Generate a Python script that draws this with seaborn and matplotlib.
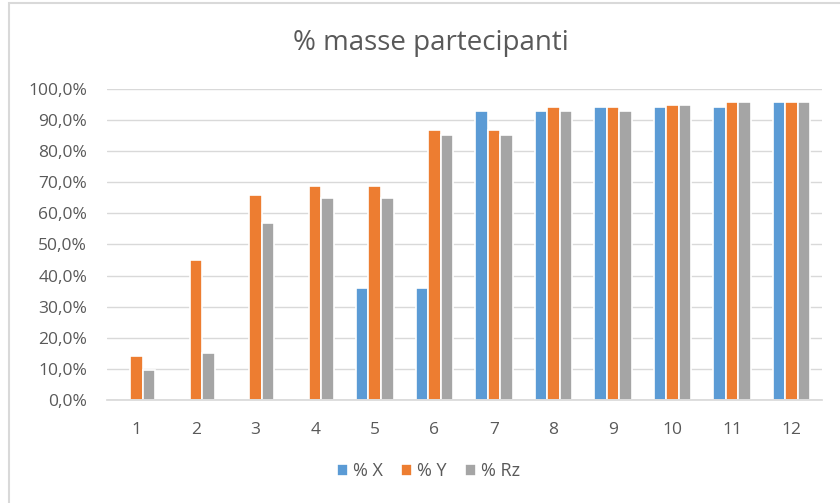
import matplotlib
matplotlib.use("Agg")
import matplotlib.pyplot as plt
import seaborn as sns
import pandas as pd
from matplotlib.ticker import FuncFormatter
from matplotlib.patches import Rectangle

categories = ["1", "2", "3", "4", "5", "6", "7", "8", "9", "10", "11", "12"]
pct_x = [0, 0, 0, 0, 36.0, 36.0, 93.0, 93.0, 94.1, 94.1, 94.1, 95.9]
pct_y = [14.1, 45.0, 65.9, 68.8, 68.8, 86.9, 86.9, 94.1, 94.1, 94.9, 95.9, 95.9]
pct_rz = [9.6, 15.1, 56.9, 65.0, 65.0, 85.1, 85.1, 93.0, 93.0, 94.9, 95.9, 95.9]
series_names = ["% X", "% Y", "% Rz"]
colors = ["#5B9BD5", "#ED7D31", "#A5A5A5"]

rows = []
for name, vals in zip(series_names, [pct_x, pct_y, pct_rz]):
    for c, v in zip(categories, vals):
        rows.append({"cat": c, "serie": name, "val": v})
df = pd.DataFrame(rows)

sns.set_theme(style="white")
plt.rcParams["font.family"] = ["Open Sans", "DejaVu Sans"]

fig = plt.figure(figsize=(8.4, 5.03), dpi=100)
ax = fig.add_axes([0.127, 0.205, 0.851, 0.618])

sns.barplot(data=df, x="cat", y="val", hue="serie", palette=colors,
            order=categories, hue_order=series_names, width=0.63,
            edgecolor="white", linewidth=1.2, ax=ax, saturation=1)

ax.set_ylim(0, 100)
ax.set_xlim(-0.5, len(categories) - 0.5)
ax.set_yticks(range(0, 101, 10))
ax.yaxis.set_major_formatter(FuncFormatter(lambda v, p: f"{v:.1f}%".replace(".", ",")))
ax.grid(axis="y", color="#D9D9D9", linewidth=1)
ax.set_axisbelow(True)
for s in ["top", "right", "left"]:
    ax.spines[s].set_visible(False)
ax.spines["bottom"].set_color("#D9D9D9")
ax.set_xlabel("")
ax.set_ylabel("")
ax.tick_params(axis="y", colors="#595959", labelsize=12.5, length=0, pad=14)
ax.tick_params(axis="x", colors="#595959", labelsize=12.5, length=0, pad=16)

ax.legend_.remove()
handles, labels = ax.get_legend_handles_labels()
fig.legend(handles, labels, loc="center", bbox_to_anchor=(0.51, 0.063), ncol=3, frameon=False,
           fontsize=13, handlelength=0.6, handleheight=0.6, handletextpad=0.3,
           columnspacing=1.0, labelcolor="#595959")

fig.text(0.513, 0.915, "% masse partecipanti", ha="center", va="center",
         fontsize=20, color="#595959")

fig.patches.append(Rectangle((9 / 840, -0.1), 1.1, 1.1 - 3 / 503, transform=fig.transFigure,
                             fill=False, edgecolor="#D9D9D9", linewidth=1.5))

fig.savefig("out.png", dpi=100)
